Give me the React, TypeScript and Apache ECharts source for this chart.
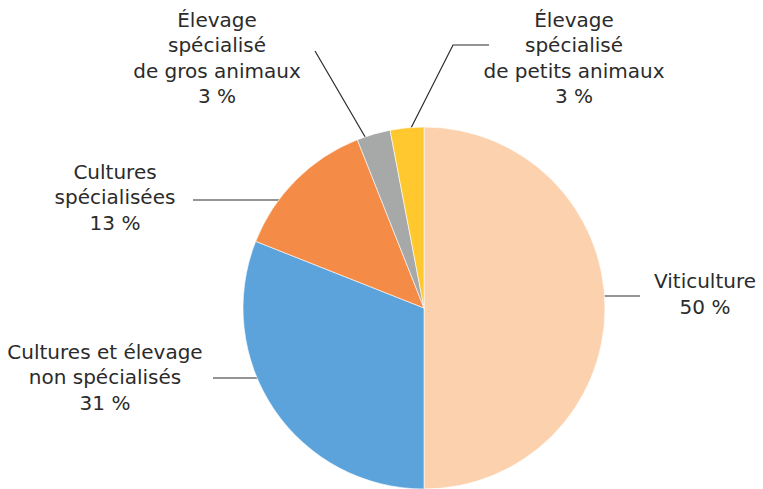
import React, { useEffect, useRef } from "react";
import * as echarts from "echarts";

const categories = [
  "Viticulture",
  "Cultures et élevage\nnon spécialisés",
  "Cultures\nspécialisées",
  "Élevage\nspécialisé\nde gros animaux",
  "Élevage\nspécialisé\nde petits animaux",
];
const values = [50, 31, 13, 3, 3];
const colors = ["#FBD1AE", "#5BA3DA", "#F48C47", "#A7A9A8", "#FFC82E"];

// label layout: text center and leader-line points (pixels)
const labelPos = [
  { x: 705, y: 294, line: [[583, 296], [611, 296], [640, 296]] },
  { x: 105, y: 377, line: [[282, 378], [247, 378], [213, 378]] },
  { x: 115, y: 197, line: [[307, 200], [250, 200], [193, 200]] },
  { x: 217, y: 58, line: [[371, 147], [343, 99], [315, 51]] },
  { x: 574, y: 58, line: [[409, 132], [453, 45], [489, 45]] },
];

export default function App() {
  const ref = useRef<HTMLDivElement>(null);
  useEffect(() => {
    if (!ref.current) return;
    const chart = echarts.init(ref.current, null, { renderer: "svg" });
    chart.setOption({
      animation: false,
      backgroundColor: "#ffffff",
      series: [
        {
          type: "pie",
          center: [424, 308],
          radius: 181,
          startAngle: 90,
          clockwise: true,
          avoidLabelOverlap: false,
          data: categories.map((name, i) => ({
            name,
            value: values[i],
            itemStyle: { color: colors[i] },
          })),
          itemStyle: { borderColor: "#ffffff", borderWidth: 0.6 },
          label: {
            show: true,
            formatter: "{b}\n{c} %",
            color: "#2b2b2b",
            fontFamily: "DejaVu Sans",
            fontSize: 20,
            lineHeight: 25.5,
            align: "center",
          },
          labelLine: {
            show: true,
            lineStyle: { color: "#2b2b2b", width: 1.2 },
          },
          labelLayout: (params: any) => {
            const p = labelPos[params.dataIndex];
            return {
              x: p.x,
              y: p.y,
              align: "center",
              verticalAlign: "middle",
              labelLinePoints: p.line,
            };
          },
          emphasis: { disabled: true },
        },
      ],
    });
    return () => chart.dispose();
  }, []);
  return <div ref={ref} style={{ width: 763, height: 489, position: "absolute", left: 0, top: 0 }} />;
}
